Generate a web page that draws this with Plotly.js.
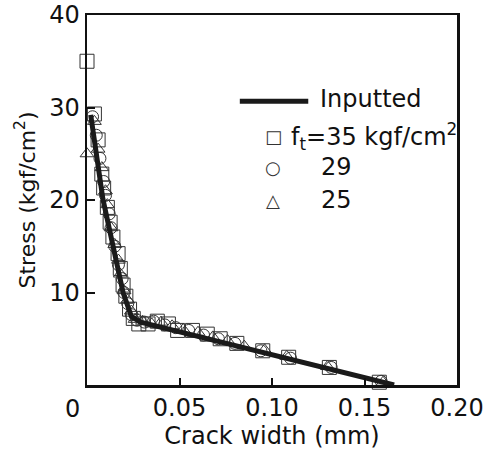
<!DOCTYPE html>
<html>
<head>
<meta charset="utf-8">
<script src="https://cdn.plot.ly/plotly-3.0.1.min.js"></script>
<style>html,body{margin:0;padding:0;background:#fff;}#chart{width:486px;height:452px;}</style>
</head>
<body>
<div id="chart"></div>
<script>
// Inputted softening curve
const inputX = [0.002, 0.0086, 0.0195, 0.024, 0.029, 0.166];
const inputY = [29.2, 20.1, 10.0, 7.4, 6.8, 0.0];

// f_t = 35 kgf/cm2 (squares)
const sqX = [0.000,0.004,0.006,0.008,0.009,0.011,0.0125,0.014,0.0168,0.018,0.0195,0.021,0.023,0.025,0.028,0.033,0.038,0.044,0.049,0.057,0.065,0.072,0.081,0.095,0.109,0.131,0.158];
const sqY = [35.0,29.3,26.5,22.8,21.3,19.2,17.6,16.0,14.2,12.6,10.8,9.6,8.2,7.2,6.6,6.6,6.9,6.6,5.9,5.9,5.5,5.0,4.5,3.7,3.0,1.9,0.3];

// f_t = 29 (circles)
const ciX = [0.003,0.005,0.007,0.009,0.010,0.012,0.013,0.015,0.017,0.019,0.020,0.022,0.024,0.027,0.031,0.036,0.042,0.048,0.055,0.063,0.071,0.080,0.094,0.110,0.132,0.159];
const ciY = [29.0,27.0,24.5,22.0,20.5,18.5,17.0,15.0,13.0,11.5,10.0,8.8,7.6,7.0,6.8,6.9,6.5,6.2,5.9,5.4,5.0,4.5,3.7,2.9,1.9,0.4];

// f_t = 25 (triangles)
const trX = [0.000,0.004,0.006,0.008,0.010,0.011,0.013,0.015,0.017,0.018,0.020,0.022,0.024,0.026,0.030,0.035,0.040,0.046,0.052,0.060,0.068,0.076,0.085,0.096,0.108,0.130,0.160];
const trY = [25.0,28.5,25.5,23.5,21.0,19.5,17.0,15.2,13.5,12.0,10.2,9.2,8.0,7.1,6.9,6.6,6.8,6.4,6.0,5.7,5.2,4.8,4.2,3.8,3.1,2.0,0.3];

const xTickVals = [0, 0.05, 0.10, 0.15, 0.20];
const xTickText = ["", "0.05", "0.10", "0.15", "0.20"];
const yTickVals = [10, 20, 30, 40];
const yTickText = ["10", "20", "30", "40"];

const FONT = "DejaVu Sans, Arial, sans-serif";
const mk = (x, y, sym, size) => ({
  x: x, y: y, type: "scatter", mode: "markers", cliponaxis: false, showlegend: false,
  marker: {symbol: sym, size: size, color: "#333", line: {width: 1, color: "#333"}}
});

const traces = [
  mk(sqX, sqY, "square-open", 14),
  mk(ciX, ciY, "circle-open", 12),
  mk(trX, trY, "triangle-up-open", 12),
  {x: inputX, y: inputY, type: "scatter", mode: "lines", showlegend: false, cliponaxis: false,
   line: {color: "#1a1a1a", width: 5}}
];

const layout = {
  width: 486, height: 452,
  margin: {l: 87, r: 29, t: 15, b: 67},
  paper_bgcolor: "#fff", plot_bgcolor: "#fff",
  font: {family: FONT, size: 24, color: "#111"},
  showlegend: false,
  xaxis: {
    range: [0, 0.20], tickvals: xTickVals, ticktext: xTickText,
    ticks: "inside", ticklen: 7, tickwidth: 2, tickcolor: "#111",
    showline: true, linewidth: 2.5, linecolor: "#111", mirror: true,
    showgrid: false, zeroline: false,
    tickfont: {family: FONT, size: 24, color: "#111"},
    title: {text: "Crack width (mm)", font: {family: FONT, size: 24, color: "#111"}, standoff: 2}
  },
  yaxis: {
    range: [0, 40], tickvals: yTickVals, ticktext: yTickText,
    ticks: "inside", ticklen: 8, tickwidth: 2, tickcolor: "#111",
    showline: true, linewidth: 2.5, linecolor: "#111", mirror: true,
    showgrid: false, zeroline: false,
    tickfont: {family: FONT, size: 24, color: "#111"},
    title: {text: "Stress (kgf/cm<sup>2</sup>)", font: {family: FONT, size: 22, color: "#111"}, standoff: 8}
  },
  shapes: [
    {type: "line", xref: "paper", yref: "paper", x0: 0.413, x1: 0.598, y0: 0.767, y1: 0.767,
     line: {color: "#1a1a1a", width: 5}}
  ],
  annotations: [
    {xref: "x", yref: "paper", x: 0, y: 0, xshift: -15, yshift: -8, yanchor: "top", showarrow: false,
     text: "0", font: {family: FONT, size: 24, color: "#111"}},
    {xref: "paper", yref: "paper", x: 0.624, y: 0.772, xanchor: "left", yanchor: "middle", showarrow: false,
     text: "Inputted", font: {family: FONT, size: 24, color: "#111"}},
    {xref: "paper", yref: "paper", x: 0.503, y: 0.672, xanchor: "center", yanchor: "middle", showarrow: false,
     text: "□", font: {family: FONT, size: 18, color: "#333"}},
    {xref: "paper", yref: "paper", x: 0.547, y: 0.672, xanchor: "left", yanchor: "middle", showarrow: false,
     text: "f<sub>t</sub>=35 kgf/cm<sup>2</sup>", font: {family: FONT, size: 24, color: "#111"}},
    {xref: "paper", yref: "paper", x: 0.503, y: 0.589, xanchor: "center", yanchor: "middle", showarrow: false,
     text: "○", font: {family: FONT, size: 18, color: "#333"}},
    {xref: "paper", yref: "paper", x: 0.627, y: 0.589, xanchor: "left", yanchor: "middle", showarrow: false,
     text: "29", font: {family: FONT, size: 24, color: "#111"}},
    {xref: "paper", yref: "paper", x: 0.503, y: 0.500, xanchor: "center", yanchor: "middle", showarrow: false,
     text: "△", font: {family: FONT, size: 18, color: "#333"}},
    {xref: "paper", yref: "paper", x: 0.627, y: 0.500, xanchor: "left", yanchor: "middle", showarrow: false,
     text: "25", font: {family: FONT, size: 24, color: "#111"}}
  ]
};

Plotly.newPlot("chart", traces, layout, {displayModeBar: false, staticPlot: true});
</script>
</body>
</html>
